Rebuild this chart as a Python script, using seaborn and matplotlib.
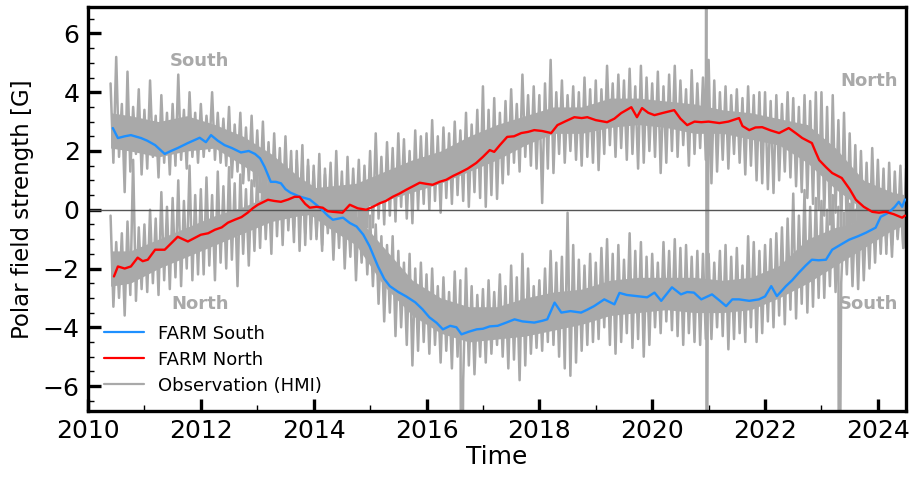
import numpy as np
import pandas as pd
import matplotlib
matplotlib.use("Agg")
import matplotlib.pyplot as plt
import seaborn as sns
from matplotlib.ticker import MultipleLocator
from matplotlib.lines import Line2D

# ---------------- data ----------------
farm_south_t = [2010.44, 2010.53, 2010.65, 2010.76, 2010.94, 2011.05, 2011.19, 2011.36, 2011.47, 2011.59,
                2011.77, 2011.98, 2012.09, 2012.18, 2012.30, 2012.42, 2012.55, 2012.71, 2012.85, 2012.96,
                2013.05, 2013.13, 2013.24, 2013.33, 2013.42, 2013.50, 2013.59, 2013.75, 2013.93, 2014.11,
                2014.25, 2014.34, 2014.52, 2014.64, 2014.76, 2014.88, 2014.99, 2015.14, 2015.25, 2015.35,
                2015.50, 2015.64, 2015.80, 2015.93, 2016.05, 2016.18, 2016.29, 2016.42, 2016.53, 2016.62,
                2016.75, 2016.89, 2017.00, 2017.12, 2017.26, 2017.40, 2017.56, 2017.70, 2017.91, 2018.05,
                2018.14, 2018.27, 2018.39, 2018.55, 2018.74, 2018.85, 2018.97, 2019.15, 2019.33, 2019.42,
                2019.55, 2019.73, 2019.91, 2020.04, 2020.16, 2020.35, 2020.51, 2020.62, 2020.74, 2020.87,
                2021.06, 2021.20, 2021.31, 2021.42, 2021.54, 2021.72, 2021.89, 2022.00, 2022.11, 2022.21,
                2022.37, 2022.48, 2022.60, 2022.72, 2022.83, 2022.95, 2023.08, 2023.19, 2023.33, 2023.49,
                2023.65, 2023.79, 2023.96, 2024.05, 2024.19, 2024.30, 2024.37, 2024.43, 2024.48]
farm_south_v = [2.78, 2.44, 2.50, 2.54, 2.44, 2.35, 2.20, 1.90, 2.00, 2.10,
                2.27, 2.45, 2.30, 2.54, 2.35, 2.20, 2.10, 1.95, 2.00, 1.90,
                1.75, 1.46, 0.95, 0.95, 0.90, 0.70, 0.58, 0.45, 0.35, 0.07,
                -0.20, -0.34, -0.27, -0.45, -0.57, -0.85, -1.24, -1.93, -2.35, -2.60,
                -2.80, -2.95, -3.15, -3.39, -3.66, -3.85, -4.07, -3.95, -4.00, -4.24,
                -4.15, -4.07, -4.05, -3.97, -3.95, -3.85, -3.73, -3.80, -3.84, -3.78,
                -3.73, -3.16, -3.50, -3.45, -3.50, -3.40, -3.28, -3.05, -3.22, -2.83,
                -2.90, -2.94, -2.98, -2.82, -3.10, -2.64, -2.88, -2.80, -2.82, -3.05,
                -2.88, -3.10, -3.28, -3.05, -3.05, -3.10, -3.05, -2.95, -2.60, -2.94,
                -2.60, -2.40, -2.14, -1.90, -1.70, -1.72, -1.70, -1.36, -1.20, -1.02,
                -0.90, -0.78, -0.61, -0.24, -0.10, 0.10, 0.27, 0.10, 0.35]

farm_north_t = [2010.46, 2010.53, 2010.65, 2010.76, 2010.88, 2010.97, 2011.06, 2011.19, 2011.36, 2011.47,
                2011.59, 2011.77, 2011.90, 2012.00, 2012.13, 2012.25, 2012.37, 2012.48, 2012.60, 2012.72,
                2012.83, 2012.92, 2013.01, 2013.19, 2013.30, 2013.42, 2013.55, 2013.66, 2013.75, 2013.85,
                2013.93, 2014.05, 2014.16, 2014.25, 2014.34, 2014.51, 2014.64, 2014.78, 2014.93, 2015.05,
                2015.17, 2015.28, 2015.40, 2015.52, 2015.64, 2015.76, 2015.88, 2016.00, 2016.11, 2016.23,
                2016.35, 2016.47, 2016.58, 2016.73, 2016.88, 2017.00, 2017.12, 2017.20, 2017.30, 2017.43,
                2017.55, 2017.68, 2017.80, 2017.91, 2018.05, 2018.21, 2018.32, 2018.45, 2018.62, 2018.75,
                2018.85, 2019.00, 2019.20, 2019.33, 2019.45, 2019.63, 2019.73, 2019.82, 2019.93, 2020.04,
                2020.20, 2020.39, 2020.50, 2020.62, 2020.75, 2020.87, 2021.00, 2021.19, 2021.35, 2021.54,
                2021.60, 2021.72, 2021.83, 2021.95, 2022.10, 2022.25, 2022.42, 2022.55, 2022.66, 2022.75,
                2022.83, 2022.90, 2022.96, 2023.08, 2023.19, 2023.36, 2023.50, 2023.61, 2023.75, 2023.90,
                2024.02, 2024.14, 2024.28, 2024.43, 2024.48]
farm_north_v = [-2.27, -1.93, -2.00, -1.93, -1.63, -1.75, -1.70, -1.36, -1.36, -1.15,
                -0.92, -1.08, -0.95, -0.85, -0.80, -0.68, -0.60, -0.44, -0.34, -0.25,
                -0.10, 0.05, 0.17, 0.34, 0.30, 0.27, 0.35, 0.44, 0.44, 0.20,
                0.07, 0.10, 0.07, -0.05, -0.07, -0.10, 0.17, 0.05, 0.00, 0.10,
                0.22, 0.30, 0.44, 0.55, 0.68, 0.80, 0.92, 0.88, 0.85, 0.95,
                1.02, 1.15, 1.25, 1.40, 1.59, 1.80, 2.03, 1.97, 2.20, 2.48,
                2.50, 2.61, 2.65, 2.71, 2.68, 2.61, 2.88, 3.00, 3.15, 3.12,
                3.15, 3.05, 2.98, 3.10, 3.29, 3.49, 3.15, 3.46, 3.30, 3.22,
                3.30, 3.39, 3.10, 2.88, 3.00, 2.98, 3.00, 2.95, 3.00, 3.12,
                2.85, 2.71, 2.80, 2.81, 2.70, 2.61, 2.78, 2.60, 2.44, 2.35,
                2.27, 1.95, 1.69, 1.45, 1.25, 1.08, 0.70, 0.34, 0.10, -0.07,
                -0.10, -0.07, -0.15, -0.27, -0.20]

# HMI observations: upper / lower excursions sampled every 0.1 yr from 2010.4
obs_start = 2010.4
obs_step = 0.1
south_obs_hi = [4.3, 5.2, 3.6, 4.7, 3.5, 4.1,
                3.4, 4.4, 3.2, 3.9, 3.3, 3.6, 4.6, 3.4, 4.0, 3.3,
                3.6, 3.2, 4.0, 3.3, 3.1, 3.5, 2.9, 3.3, 2.8, 3.2,
                2.7, 3.0, 2.3, 2.6, 2.1, 2.5, 2.0, 1.7, 2.2, 1.5,
                1.3, 1.0, 1.4, 0.8, 0.6, 0.9, 0.3, 0.5, 0.0, 0.2,
                -0.2, -0.5, -0.9, -1.2, -0.9, -1.4, -1.8, -1.5, -2.0, -1.8,
                -2.2, -2.0, -2.6, -2.3, -2.8, -2.1, -2.4, -2.0, -2.6, -2.9,
                -2.7, -2.4, -2.8, -2.2, -2.6, -1.9, -2.3, -1.5, -2.0, -2.6,
                -2.4, -2.0, -1.4, -1.8, -1.6, -0.1, -1.2, -1.7, -1.9, -1.5,
                -1.8, -1.3, -1.0, -1.5, -1.2, -1.7, -0.8, -1.4, -1.1, -1.6,
                -1.5, -1.8, -1.1, -1.4, -1.0, -1.3, -1.2, -1.6, -1.4, -1.5,
                -1.5, -1.8, -1.4, -1.2, -1.6, -1.3, -1.9, -0.9, -1.1, -1.4,
                -1.2, -1.0, -0.8, -0.6, -0.3, 0.55, -0.2, 0.67, 0.1, 0.4,
                0.3, 0.0, 0.5, 0.1, -0.1, 0.2, 0.0, 0.3, 0.1, 0.4,
                0.5, 0.6, 0.3, 0.7, 0.4, 0.5]
south_obs_lo = [1.6, 1.8, 0.6, 1.3, 1.9, 1.2,
                1.4, 1.8, 1.1, 1.6, 1.2, 1.5, 1.7, 1.4, 1.8, 1.6,
                1.8, 2.0, 1.7, 1.6, 1.5, 1.1, 1.3, 0.9, 1.0, 0.8,
                0.6, 0.4, 0.1, 0.3, -0.2, 0.0, -0.6, -0.3, -1.2, -0.5,
                -1.0, -1.4, -0.8, -1.7, -1.3, -2.0, -1.6, -2.4, -1.8, -2.2,
                -2.6, -3.2, -3.8, -3.5, -4.3, -4.0, -4.6, -5.3, -4.8, -4.5,
                -4.9, -4.6, -5.2, -4.8, -5.4, -5.0, -5.8, -5.3, -5.6, -5.0,
                -5.2, -4.9, -4.6, -5.0, -5.4, -5.1, -5.8, -5.3, -4.9, -4.7,
                -4.8, -4.5, -4.6, -5.0, -5.4, -5.65, -5.2, -4.8, -4.6, -4.5,
                -4.4, -4.0, -4.6, -4.9, -4.5, -4.2, -4.7, -4.4, -5.0, -4.6,
                -4.0, -4.2, -3.8, -4.1, -4.3, -4.6, -4.2, -4.5, -4.6, -4.4,
                -4.4, -4.0, -4.3, -4.75, -4.4, -4.2, -4.5, -4.0, -4.5, -4.2,
                -3.8, -4.0, -3.6, -3.9, -3.4, -3.7, -3.2, -3.5, -3.3, -3.0,
                -3.0, -2.6, -2.8, -2.5, -2.2, -2.6, -2.7, -2.4, -2.0, -1.8,
                -1.5, -1.2, -1.6, -1.0, -1.3, -0.9]
north_obs_hi = [-0.2, -1.1, -0.8, -0.4, 1.7, -0.6,
                -0.5, 0.0, -0.3, 0.6, 0.1, 0.4, 1.0, 0.3, 1.5, 0.5,
                0.7, 1.1, 0.5, 1.3, 0.8, 1.45, 0.9, 1.2, 0.7, 1.0,
                1.2, 1.5, 1.0, 1.9, 1.3, 1.6, 1.1, 2.0, 1.4, 1.7,
                1.5, 1.9, 1.2, 1.6, 2.0, 1.3, 1.8, 1.4, 1.7, 1.5,
                2.0, 2.6, 1.8, 2.3, 2.1, 2.6, 2.4, 2.0, 2.7, 2.5,
                2.6, 3.05, 2.5, 2.8, 2.6, 3.0, 2.7, 3.3, 2.9, 3.4,
                4.2, 3.4, 3.8, 3.3, 3.7, 4.1, 3.6, 4.6, 3.9, 4.2,
                3.9, 4.3, 5.1, 4.0, 4.4, 3.9, 4.2, 4.0, 4.5, 4.1,
                4.4, 4.1, 4.9, 4.3, 4.6, 4.4, 4.8, 4.2, 4.9, 4.5,
                4.3, 4.7, 4.2, 4.6, 4.9, 4.4, 4.1, 4.75, 4.3, 4.5,
                5.1, 4.4, 4.0, 4.2, 3.9, 4.1, 3.8, 4.2, 3.9, 4.0,
                4.0, 3.7, 3.9, 3.6, 4.0, 3.8, 3.5, 3.9, 3.7, 4.0,
                4.0, 3.5, 3.9, 3.05, 3.3, 2.6, 2.2, 2.0, 1.6, 2.1,
                1.7, 1.4, 1.6, 1.3, 1.5, 1.4]
north_obs_lo = [-3.3, -3.0, -3.6, -2.9, -3.1, -2.7,
                -2.8, -2.5, -2.9, -2.4, -2.7, -2.3, -2.6, -2.0, -2.4, -2.2,
                -2.2, -1.9, -2.4, -1.8, -2.0, -1.7, -2.6, -1.5, -1.9, -1.4,
                -1.3, -1.0, -1.5, -0.9, -1.2, -0.7, -1.1, -1.4, -0.8, -1.0,
                -0.9, -1.2, -0.6, -1.0, -0.7, -1.25, -0.8, -0.5, -0.9, -0.6,
                -0.6, -0.3, -0.5, -0.2, -0.4, 0.1, -0.3, -0.46, 0.0, 0.2,
                0.0, 0.3, -0.1, 0.4, 0.2, 0.5, 0.3, 0.1, 0.6, 0.4,
                0.1, 0.5, 0.37, 0.9, 1.2, 1.6, 1.3, 1.8, 1.5, 1.4,
                0.23, 1.4, 1.25, 1.9, 1.6, 2.0, 1.7, 1.5, 1.8, 1.6,
                1.35, 1.9, 2.2, 1.8, 2.1, 1.7, 1.9, 1.4, 1.6, 2.0,
                1.8, 1.25, 1.6, 2.0, 1.8, 2.2, 1.5, 1.9, 2.1, 1.7,
                0.9, 1.3, 1.7, 1.4, 1.9, 1.6, 1.2, 1.5, 1.0, 0.9,
                0.7, 0.57, 1.0, 1.3, 1.1, 0.8, 0.6, 0.4, 0.2, 0.0,
                -0.2, -0.5, -0.1, -0.6, -0.8, -0.7, -1.0, -0.9, -1.2, -0.8,
                -1.0, -1.5, -1.2, -0.9, -1.3, -1.1]

# dense core of the observation band (where the daily values pile up)
core_t = [2010.4, 2010.75, 2011.25, 2011.75, 2012.25, 2012.75, 2013.25, 2013.75, 2014.25, 2014.75,
          2015.25, 2015.75, 2016.25, 2016.75, 2017.25, 2017.75, 2018.25, 2018.75, 2019.25, 2019.75,
          2020.25, 2020.75, 2021.25, 2021.75, 2022.25, 2022.75, 2023.25, 2023.75, 2024.25, 2024.5]
south_core_hi = [3.3, 3.2, 3.0, 3.2, 2.9, 2.5, 1.9, 1.1, 0.5, -0.2,
                 -1.3, -2.4, -3.0, -3.3, -3.3, -3.0, -2.8, -2.7, -2.4, -2.3,
                 -2.3, -2.3, -2.4, -2.3, -1.9, -1.0, -0.6, -0.4, 0.1, 0.2]
south_core_lo = [2.1, 2.0, 1.8, 2.0, 2.1, 1.5, 0.9, 0.1, -0.6, -1.2,
                 -2.6, -3.6, -4.2, -4.5, -4.4, -4.3, -4.1, -3.9, -3.6, -3.5,
                 -3.4, -3.5, -3.5, -3.4, -3.0, -2.5, -1.9, -1.3, -0.7, -0.5]
north_core_hi = [-1.4, -1.4, -1.0, -0.6, -0.2, 0.1, 0.5, 0.7, 0.8, 0.9,
                 1.3, 1.7, 2.0, 2.5, 2.9, 3.2, 3.5, 3.5, 3.8, 3.8,
                 3.7, 3.6, 3.4, 3.3, 3.1, 2.9, 2.1, 1.0, 0.6, 0.5]
north_core_lo = [-2.6, -2.5, -2.0, -1.6, -1.2, -0.8, -0.4, -0.2, -0.1, 0.0,
                 0.3, 0.6, 0.9, 1.3, 1.7, 2.2, 2.6, 2.6, 2.8, 2.9,
                 2.8, 2.6, 2.6, 2.4, 2.2, 1.6, 0.7, 0.0, -0.2, -0.3]

# isolated outliers in the observations
south_spike_t = [2016.62, 2023.31]
south_spike_v = [-15.0, -15.0]
north_spike_t = [2020.96, 2020.962]
north_spike_v = [15.0, -15.0]

labels = ["FARM South", "FARM North", "Observation (HMI)"]
annotations = [("South", 2011.98, 5.05), ("North", 2011.98, -3.2),
               ("North", 2023.84, 4.37), ("South", 2023.84, -3.2)]


def obs_frame(hi, lo, spike_t, spike_v):
    n = len(hi)
    base = np.round(obs_start + obs_step * np.arange(n), 3)
    t = np.empty(2 * n)
    v = np.empty(2 * n)
    t[0::2] = base
    t[1::2] = base + obs_step / 2
    v[0::2] = hi
    v[1::2] = lo
    df = pd.DataFrame({"t": np.r_[t, spike_t], "v": np.r_[v, spike_v]})
    return df.sort_values("t", kind="stable").reset_index(drop=True)


south_obs = obs_frame(south_obs_hi, south_obs_lo, south_spike_t, south_spike_v)
north_obs = obs_frame(north_obs_hi, north_obs_lo, north_spike_t, north_spike_v)
farm_south = pd.DataFrame({"t": farm_south_t, "v": farm_south_v})
farm_north = pd.DataFrame({"t": farm_north_t, "v": farm_north_v})

# ---------------- plot ----------------
sns.set_style("ticks")
plt.rcParams["font.family"] = ["DejaVu Sans"]
plt.rcParams["text.color"] = "black"
plt.rcParams["axes.labelcolor"] = "black"
plt.rcParams["xtick.color"] = "black"
plt.rcParams["ytick.color"] = "black"

fig = plt.figure(figsize=(9.1, 4.8), dpi=100)
ax = fig.add_axes([0.0967, 0.1437, 0.899, 0.8417])

grey = "#a9a9a9"
ax.fill_between(core_t, south_core_lo, south_core_hi, color=grey, lw=0, zorder=1)
ax.fill_between(core_t, north_core_lo, north_core_hi, color=grey, lw=0, zorder=1)
for df in (south_obs, north_obs):
    sns.lineplot(data=df, x="t", y="v", sort=False, estimator=None, color=grey,
                 lw=1.8, ax=ax, legend=False, zorder=1)
ax.axhline(0, color="#555555", lw=1.0, zorder=2)
sns.lineplot(data=farm_south, x="t", y="v", sort=False, estimator=None, color="#1E90FF",
             lw=1.7, ax=ax, legend=False, zorder=3)
sns.lineplot(data=farm_north, x="t", y="v", sort=False, estimator=None, color="red",
             lw=1.7, ax=ax, legend=False, zorder=4)

for txt, x, y in annotations:
    ax.text(x, y, txt, color=grey, fontsize=13, fontweight="bold", ha="center", va="center")

ax.set_xlim(2010, 2024.5)
ax.set_ylim(-6.85, 6.9)
ax.xaxis.set_major_locator(MultipleLocator(2))
ax.xaxis.set_minor_locator(MultipleLocator(1))
ax.yaxis.set_major_locator(MultipleLocator(2))
ax.yaxis.set_minor_locator(MultipleLocator(0.5))
ax.tick_params(which="major", direction="in", length=9, width=2.4, labelsize=18, pad=6,
               colors="black")
ax.tick_params(which="minor", direction="in", length=4.5, width=1.0, colors="black")
for sp in ax.spines.values():
    sp.set_linewidth(2.4)
    sp.set_color("black")
ax.set_xlabel("Time", fontsize=18, labelpad=1)
ax.set_ylabel("Polar field strength [G]", fontsize=16.5, labelpad=6)

handles = [Line2D([], [], color="#1E90FF", lw=1.6),
           Line2D([], [], color="red", lw=1.6),
           Line2D([], [], color=grey, lw=1.6)]
ax.legend(handles, labels, loc="lower left", frameon=False, fontsize=13,
          bbox_to_anchor=(0.0, 0.0), handlelength=2.2, labelspacing=0.45)

fig.savefig("out.png", dpi=100)
